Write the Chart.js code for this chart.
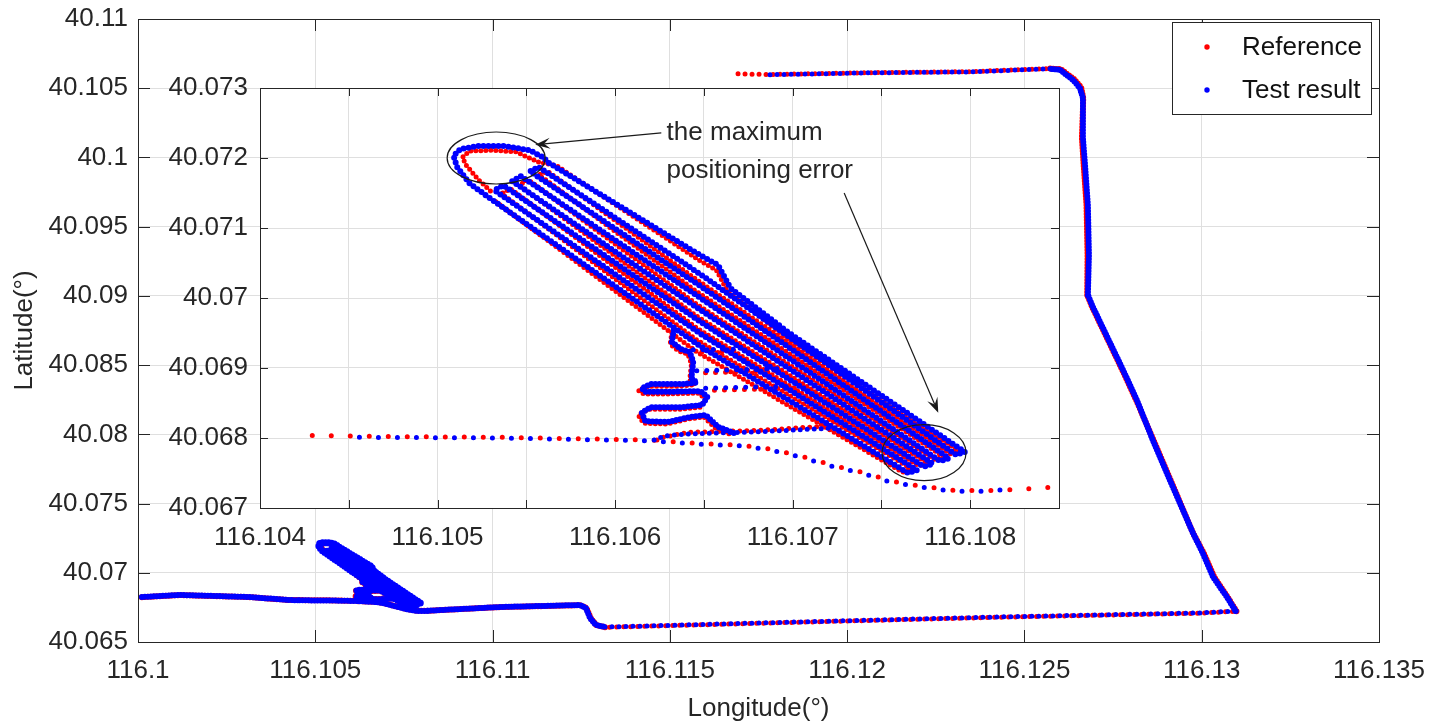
<!DOCTYPE html>
<html>
<head>
<meta charset="utf-8">
<script src="https://cdn.jsdelivr.net/npm/chart.js@4.4.0/dist/chart.umd.min.js"></script>
<style>
  html, body { margin: 0; padding: 0; background: #fff; }
  #wrap { position: relative; width: 1429px; height: 724px; }
  #wrap canvas { position: absolute; left: 0; top: 0; }
</style>
</head>
<body>
<div id="wrap">
  <canvas id="main" width="1429" height="724"></canvas>
  <canvas id="inset" width="1429" height="724"></canvas>
</div>
<script>
// series names (legend)
const seriesNames = ['Reference', 'Test result'];

// tick values and labels
const mainXTicks = [116.1, 116.105, 116.11, 116.115, 116.12, 116.125, 116.13, 116.135];
const mainXLabels = ['116.1', '116.105', '116.11', '116.115', '116.12', '116.125', '116.13', '116.135'];
const mainYTicks = [40.065, 40.07, 40.075, 40.08, 40.085, 40.09, 40.095, 40.1, 40.105, 40.11];
const mainYLabels = ['40.065', '40.07', '40.075', '40.08', '40.085', '40.09', '40.095', '40.1', '40.105', '40.11'];
const insetXTicks = [116.104, 116.1045, 116.105, 116.1055, 116.106, 116.1065, 116.107, 116.1075, 116.108, 116.1085];
const insetXLabels = ['116.104', '', '116.105', '', '116.106', '', '116.107', '', '116.108', ''];
const insetYTicks = [40.067, 40.068, 40.069, 40.07, 40.071, 40.072, 40.073];
const insetYLabels = ['40.067', '40.068', '40.069', '40.07', '40.071', '40.072', '40.073'];

// ---- track pieces, [longitude, latitude] ----
// slow laps on the test field (seen in the inset)
const blueBand = [
  [116.10527, 40.07147], [116.10518, 40.07164], [116.10511, 40.07187], [116.10509, 40.07203], [116.10513, 40.07213],
  [116.10523, 40.07217], [116.10538, 40.07217], [116.10552, 40.07211], [116.10560, 40.07200], [116.10562, 40.07194],
  [116.10648, 40.07061], [116.10658, 40.07047], [116.10665, 40.07014], [116.10698, 40.06950], [116.10797, 40.06780],
  [116.10792, 40.06776], [116.10648, 40.07034], [116.10557, 40.07187],
  [116.10552, 40.07181], [116.10648, 40.07017], [116.10788, 40.06771],
  [116.10783, 40.06767], [116.10648, 40.07000], [116.10547, 40.07174],
  [116.10542, 40.07167], [116.10648, 40.06983], [116.10779, 40.06763],
  [116.10774, 40.06759], [116.10648, 40.06966], [116.10537, 40.07161],
  [116.10532, 40.07154], [116.10648, 40.06949], [116.10770, 40.06754],
  [116.10765, 40.06750], [116.10648, 40.06931], [116.10527, 40.07147]
];
const redBand = [
  [116.10531, 40.07150], [116.10523, 40.07169], [116.10516, 40.07190], [116.10514, 40.07201], [116.10518, 40.07210],
  [116.10530, 40.07211], [116.10544, 40.07209], [116.10557, 40.07194], [116.10567, 40.07189],
  [116.10648, 40.07053], [116.10657, 40.07040], [116.10663, 40.07011], [116.10698, 40.06941], [116.10794, 40.06781],
  [116.10789, 40.06777], [116.10646, 40.07026], [116.10562, 40.07181],
  [116.10557, 40.07176], [116.10646, 40.07009], [116.10785, 40.06773],
  [116.10780, 40.06769], [116.10646, 40.06991], [116.10551, 40.07169],
  [116.10546, 40.07161], [116.10646, 40.06974], [116.10776, 40.06764],
  [116.10771, 40.06760], [116.10646, 40.06957], [116.10541, 40.07156],
  [116.10536, 40.07149], [116.10646, 40.06940], [116.10767, 40.06756],
  [116.10762, 40.06751], [116.10646, 40.06923], [116.10531, 40.07141]
];
const blueHooks = [
  [116.10633, 40.06954], [116.10632, 40.06937], [116.10637, 40.06927], [116.10642, 40.06923], [116.10644, 40.06909],
  [116.10643, 40.06886], [116.10646, 40.06879], [116.10637, 40.06877], [116.10620, 40.06877], [116.10615, 40.06871],
  [116.10617, 40.06866], [116.10631, 40.06866], [116.10648, 40.06867], [116.10652, 40.06859], [116.10649, 40.06847],
  [116.10637, 40.06844], [116.10620, 40.06844], [116.10615, 40.06836], [116.10617, 40.06824], [116.10630, 40.06823],
  [116.10642, 40.06830], [116.10651, 40.06833], [116.10658, 40.06816], [116.10667, 40.06807]
];
const redHooks = [
  [116.10632, 40.06951], [116.10631, 40.06934], [116.10636, 40.06924], [116.10641, 40.06920], [116.10643, 40.06906],
  [116.10642, 40.06883], [116.10645, 40.06876], [116.10636, 40.06874], [116.10619, 40.06874], [116.10613, 40.06868],
  [116.10616, 40.06863], [116.10630, 40.06863], [116.10647, 40.06864], [116.10651, 40.06856], [116.10648, 40.06844],
  [116.10636, 40.06841], [116.10619, 40.06841], [116.10613, 40.06833], [116.10616, 40.06821], [116.10629, 40.06820],
  [116.10641, 40.06827], [116.10650, 40.06830], [116.10657, 40.06813], [116.10666, 40.06804]
];
const blueStubA = [[116.10644, 40.06926], [116.10670, 40.06927]];
const redStubA = [[116.10645, 40.06923], [116.10671, 40.06924]];
const blueStubB = [[116.10646, 40.06896], [116.10693, 40.06899]];
const redStubB = [[116.10647, 40.06893], [116.10694, 40.06896]];
const blueStubC = [[116.10651, 40.06871], [116.10701, 40.06874]];
const redStubC = [[116.10652, 40.06868], [116.10702, 40.06871]];
const blueSpur = [[116.10622, 40.06797], [116.10628, 40.06803], [116.10642, 40.06806], [116.10682, 40.06809], [116.10721, 40.06814]];
const redSpur = [[116.10621, 40.06794], [116.10627, 40.06801], [116.10641, 40.06808], [116.10682, 40.06811], [116.10719, 40.06817]];
const blueThrough = [
  [116.10456, 40.06801], [116.10535, 40.06800], [116.10620, 40.06796], [116.10648, 40.06791], [116.10670, 40.06789],
  [116.10687, 40.06783], [116.10704, 40.06773], [116.10723, 40.06759], [116.10740, 40.06749], [116.10755, 40.06737],
  [116.10772, 40.06730], [116.10790, 40.06724], [116.10809, 40.06724], [116.10818, 40.06726]
];
const redThrough = [
  [116.10421, 40.06804], [116.10479, 40.06802], [116.10535, 40.06801], [116.10620, 40.06797], [116.10648, 40.06792],
  [116.10670, 40.06790], [116.10688, 40.06784], [116.10705, 40.06774], [116.10724, 40.06760], [116.10741, 40.06750],
  [116.10756, 40.06738], [116.10773, 40.06731], [116.10791, 40.06725], [116.10810, 40.06725], [116.10830, 40.06727],
  [116.10849, 40.06730]
];

// the rest of the route (main plot only)
const blueWest = [[116.10011, 40.06825], [116.10118, 40.06840], [116.10316, 40.06825], [116.10421, 40.06804], [116.10456, 40.06801]];
const redWest = [[116.10011, 40.06824], [116.10118, 40.06839], [116.10316, 40.06824], [116.10421, 40.06804]];
const blueEast = [[116.10818, 40.06726], [116.11021, 40.06753], [116.11246, 40.06767], [116.11263, 40.06746], [116.11275, 40.06673], [116.11291, 40.06623], [116.11317, 40.06608]];
const redEast = [[116.10849, 40.06730], [116.11021, 40.06752], [116.11248, 40.06766], [116.11265, 40.06744], [116.11277, 40.06671], [116.11293, 40.06621], [116.11319, 40.06606]];
const blueBottom = [[116.11317, 40.06608], [116.11867, 40.06645], [116.12431, 40.06681], [116.12995, 40.06710], [116.13096, 40.06724]];
const redBottom = [[116.11319, 40.06606], [116.11867, 40.06643], [116.12431, 40.06679], [116.12995, 40.06708], [116.13098, 40.06722]];
const blueRise = [
  [116.13096, 40.06724], [116.13071, 40.06825], [116.13032, 40.06970], [116.13003, 40.07143], [116.12975, 40.07288],
  [116.12910, 40.07670], [116.12862, 40.07959], [116.12817, 40.08248], [116.12778, 40.08465], [116.12693, 40.08920], [116.12679, 40.09007]
];
const redRise = [
  [116.13098, 40.06722], [116.13074, 40.06820], [116.13036, 40.06965], [116.13006, 40.07140], [116.12975, 40.07290],
  [116.12912, 40.07670], [116.12864, 40.07959], [116.12815, 40.08248], [116.12776, 40.08465], [116.12691, 40.08920], [116.12677, 40.09007]
];
const blueNorth = [
  [116.12679, 40.09007], [116.12682, 40.09296], [116.12679, 40.09657], [116.12671, 40.09946], [116.12665, 40.10141],
  [116.12665, 40.10430], [116.12656, 40.10503], [116.12637, 40.10560], [116.12600, 40.10633], [116.12572, 40.10640]
];
const redNorth = [
  [116.12677, 40.09007], [116.12678, 40.09296], [116.12675, 40.09657], [116.12667, 40.09946], [116.12662, 40.10141],
  [116.12666, 40.10430], [116.12660, 40.10505], [116.12640, 40.10565], [116.12602, 40.10638], [116.12572, 40.10642]
];
const blueTop = [[116.12572, 40.10640], [116.12338, 40.10618], [116.12056, 40.10611], [116.11774, 40.10597]];
const redTop = [[116.12572, 40.10642], [116.12338, 40.10619], [116.12056, 40.10612], [116.11774, 40.10599], [116.11692, 40.10604]];

const RED = '#ff0000';
const BLUE = '#0000ff';
const INK = '#262626';
const GRID = '#dfdfdf';
const FONT = '"Liberation Sans", Arial, Helvetica, sans-serif';

Chart.defaults.font.family = FONT;

// a dotted track: round caps on zero-length dashes give the '.' markers
// (order: red is drawn first so the test result sits on top)
function trace(points, color, gap, width, offset) {
  return {
    data: points.map(p => ({ x: p[0], y: p[1] })),
    showLine: true,
    order: color === RED ? 1 : 0,
    borderColor: color,
    borderWidth: width,
    borderDash: [0, gap],
    borderDashOffset: offset || 0,
    borderCapStyle: 'round',
    borderJoinStyle: 'round',
    pointRadius: 0,
    pointHoverRadius: 0,
    fill: false,
    tension: 0
  };
}

function axis(o) {
  return {
    type: 'linear',
    min: o.min,
    max: o.max,
    position: o.position,
    afterBuildTicks: s => { s.ticks = o.ticks.map(v => ({ value: v })); },
    afterFit: s => {
      if (o.position === 'left') s.width = o.size;
      else s.height = o.size;
      // keep the plot box where it is, labels may hang over the edges
      s.paddingLeft = 0; s.paddingRight = 0; s.paddingTop = 0; s.paddingBottom = 0;
    },
    ticks: {
      autoSkip: false,
      maxRotation: 0,
      padding: o.pad,
      color: INK,
      font: { size: 26, family: FONT },
      callback: (v, i) => o.labels[i]
    },
    grid: { color: GRID, lineWidth: 1, drawTicks: false },
    border: { display: true, color: INK, width: 1 },
    title: o.title
      ? { display: true, text: o.title, color: INK, font: { size: 26, family: FONT, lineHeight: 1.2 }, padding: o.titlePad }
      : { display: false }
  };
}

// MATLAB style box with inward ticks on all four sides
const boxTicks = {
  id: 'boxTicks',
  afterDraw(chart, args, opts) {
    const { ctx, chartArea: a, scales: { x, y } } = chart;
    const len = opts.len || 10;
    ctx.save();
    ctx.strokeStyle = INK;
    ctx.lineWidth = 1;
    ctx.strokeRect(Math.round(a.left) + 0.5, Math.round(a.top) + 0.5, Math.round(a.right - a.left), Math.round(a.bottom - a.top));
    ctx.beginPath();
    x.ticks.forEach(t => {
      const px = Math.round(x.getPixelForValue(t.value)) + 0.5;
      ctx.moveTo(px, a.bottom); ctx.lineTo(px, a.bottom - len);
      ctx.moveTo(px, a.top); ctx.lineTo(px, a.top + len);
    });
    y.ticks.forEach(t => {
      const py = Math.round(y.getPixelForValue(t.value)) + 0.5;
      ctx.moveTo(a.left, py); ctx.lineTo(a.left + len, py);
      ctx.moveTo(a.right, py); ctx.lineTo(a.right - len, py);
    });
    ctx.stroke();
    ctx.restore();
  }
};

const legendBox = {
  id: 'legendBox',
  afterDraw(chart) {
    const ctx = chart.ctx;
    ctx.save();
    ctx.fillStyle = '#fff';
    ctx.fillRect(1172, 22, 199, 92);
    ctx.strokeStyle = INK;
    ctx.lineWidth = 1;
    ctx.strokeRect(1172.5, 22.5, 199, 92);
    const rows = [[seriesNames[0], RED, 48], [seriesNames[1], BLUE, 91]];
    rows.forEach(([text, color, yy]) => {
      ctx.fillStyle = color;
      ctx.beginPath();
      ctx.arc(1207, yy - 1, 2.7, 0, Math.PI * 2);
      ctx.fill();
      ctx.fillStyle = '#111';
      ctx.font = '26px ' + FONT;
      ctx.textBaseline = 'middle';
      ctx.fillText(text, 1242, yy);
    });
    ctx.restore();
  }
};

const whiteArea = {
  id: 'whiteArea',
  beforeDraw(chart) {
    const { ctx, chartArea: a } = chart;
    ctx.save();
    ctx.fillStyle = '#fff';
    ctx.fillRect(a.left, a.top, a.right - a.left, a.bottom - a.top);
    ctx.restore();
  }
};

function arrow(ctx, x0, y0, x1, y1) {
  const ang = Math.atan2(y1 - y0, x1 - x0);
  const c = Math.cos(ang), s = Math.sin(ang);
  const L = 15, W = 5.5;
  ctx.beginPath();
  ctx.moveTo(x0, y0);
  ctx.lineTo(x1 - c * L * 0.6, y1 - s * L * 0.6);
  ctx.stroke();
  ctx.beginPath();
  ctx.moveTo(x1, y1);
  ctx.lineTo(x1 - L * c + W * s, y1 - L * s - W * c);
  ctx.lineTo(x1 - 0.6 * L * c, y1 - 0.6 * L * s);
  ctx.lineTo(x1 - L * c - W * s, y1 - L * s + W * c);
  ctx.closePath();
  ctx.fill();
}

// ellipses, arrows and the note inside the inset
const callouts = {
  id: 'callouts',
  afterDatasetsDraw(chart) {
    const { ctx, scales: { x, y } } = chart;
    const P = (lon, lat) => [x.getPixelForValue(lon), y.getPixelForValue(lat)];
    ctx.save();
    ctx.strokeStyle = '#1a1a1a';
    ctx.fillStyle = '#1a1a1a';
    ctx.lineWidth = 1.2;

    let [cx, cy] = P(116.10533, 40.07200);
    ctx.beginPath(); ctx.ellipse(cx, cy, 49, 26, 0, 0, Math.PI * 2); ctx.stroke();
    [cx, cy] = P(116.10774, 40.06779);
    ctx.beginPath(); ctx.ellipse(cx, cy, 42, 28, 0, 0, Math.PI * 2); ctx.stroke();

    let a = P(116.10626, 40.07236), b = P(116.10555, 40.07219);
    arrow(ctx, a[0], a[1], b[0], b[1]);
    a = P(116.10729, 40.07150); b = P(116.10782, 40.06836);
    arrow(ctx, a[0], a[1], b[0], b[1]);

    ctx.fillStyle = INK;
    ctx.font = '26px ' + FONT;
    ctx.textBaseline = 'middle';
    let t = P(116.10629, 40.07236);
    ctx.fillText('the maximum', t[0], t[1]);
    t = P(116.10629, 40.07181);
    ctx.fillText('positioning error', t[0], t[1]);
    ctx.restore();
  }
};

// ---- main plot ----
const mainSets = [
  trace(redWest, RED, 3, 6),
  trace(redThrough, RED, 3, 6),
  trace(redSpur, RED, 3, 6),
  trace(redHooks, RED, 3, 6),
  trace(redStubA, RED, 3, 6),
  trace(redStubB, RED, 3, 6),
  trace(redStubC, RED, 3, 6),
  trace(redBand, RED, 3, 5),
  trace(redEast, RED, 3, 6),
  trace(redBottom, RED, 7, 5, 3),
  trace(redRise, RED, 3, 6),
  trace(redNorth, RED, 3, 6),
  trace(redTop, RED, 7, 5, 3),
  trace(blueWest, BLUE, 3, 6),
  trace(blueThrough, BLUE, 3, 6),
  trace(blueSpur, BLUE, 3, 6),
  trace(blueHooks, BLUE, 3, 6),
  trace(blueStubA, BLUE, 3, 6),
  trace(blueStubB, BLUE, 3, 6),
  trace(blueStubC, BLUE, 3, 6),
  trace(blueBand, BLUE, 3, 7),
  trace(blueEast, BLUE, 3, 6),
  trace(blueBottom, BLUE, 7, 5),
  trace(blueRise, BLUE, 3, 6),
  trace(blueNorth, BLUE, 3, 6),
  trace(blueTop, BLUE, 7, 5)
];

new Chart(document.getElementById('main'), {
  type: 'scatter',
  data: { datasets: mainSets },
  options: {
    responsive: false,
    animation: false,
    events: [],
    layout: { padding: { left: 0, top: 19, right: 50, bottom: 0 } },
    scales: {
      x: axis({ min: 116.1, max: 116.135, position: 'bottom', ticks: mainXTicks, labels: mainXLabels, size: 82, pad: 13,
                title: 'Longitude(°)', titlePad: { top: 0, bottom: 0 } }),
      y: axis({ min: 40.065, max: 40.11, position: 'left', ticks: mainYTicks, labels: mainYLabels, size: 138, pad: 10,
                title: 'Latitude(°)', titlePad: { top: 9, bottom: 0 } })
    },
    plugins: {
      legend: { display: false },
      tooltip: { enabled: false },
      boxTicks: { len: 12 }
    }
  },
  plugins: [boxTicks, legendBox]
});

// ---- inset (zoom on the test field) ----
const insetSets = [
  trace(redThrough, RED, 19, 5, 4),
  trace(redSpur, RED, 7, 5, 2),
  trace(redStubA, RED, 10, 5, 3),
  trace(redStubB, RED, 10, 5, 3),
  trace(redStubC, RED, 10, 5, 3),
  trace(redHooks, RED, 5, 5),
  trace(redBand, RED, 5, 5, 2),
  trace(blueThrough, BLUE, 19, 5),
  trace(blueSpur, BLUE, 7, 5),
  trace(blueStubA, BLUE, 10, 5),
  trace(blueStubB, BLUE, 10, 5),
  trace(blueStubC, BLUE, 10, 5),
  trace(blueHooks, BLUE, 4, 6),
  trace(blueBand, BLUE, 5, 6)
];

new Chart(document.getElementById('inset'), {
  type: 'scatter',
  data: { datasets: insetSets },
  options: {
    responsive: false,
    animation: false,
    events: [],
    layout: { padding: { left: 160, top: 88, right: 370, bottom: 166 } },
    scales: {
      x: axis({ min: 116.104, max: 116.1085, position: 'bottom', ticks: insetXTicks, labels: insetXLabels, size: 50, pad: 14 }),
      y: axis({ min: 40.067, max: 40.073, position: 'left', ticks: insetYTicks, labels: insetYLabels, size: 100, pad: 12 })
    },
    plugins: {
      legend: { display: false },
      tooltip: { enabled: false },
      boxTicks: { len: 8 }
    }
  },
  plugins: [whiteArea, callouts, boxTicks]
});
</script>
</body>
</html>
